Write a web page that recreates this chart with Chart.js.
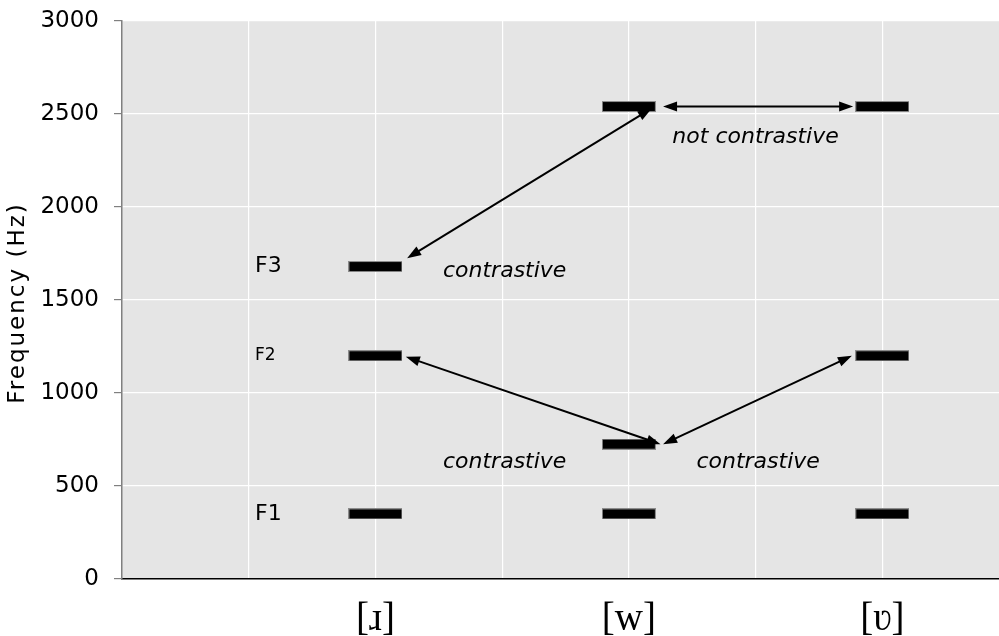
<!DOCTYPE html>
<html>
<head>
<meta charset="utf-8">
<script src="https://cdn.jsdelivr.net/npm/chart.js@4/dist/chart.umd.min.js"></script>
<style>
  html, body { margin: 0; padding: 0; background: #fff; overflow: hidden; }
</style>
</head>
<body>
<canvas id="myChart" width="1009" height="636"></canvas>
<script>
// sounds and where they sit on the x axis
const categories = ['[ɹ]', '[w]', '[ʋ]']
const categoryX = [2, 4, 6]

// formant values (Hz)
const F1 = [350, 350, 350]
const F2 = [1200, 725, 1200]
const F3 = [1680, 2540, 2540]

const yTicks = [0, 500, 1000, 1500, 2000, 2500, 3000]

// formant names, drawn to the left of the [ɹ] bars
const formantNames = ['F1', 'F2', 'F3']
const formantNameSize = [22, 17, 22]

// double arrows between bars, in data units: [x1, y1, x2, y2]
const arrows = [
    [2.25, 1725, 4.18, 2530],
    [4.27, 2540, 5.77, 2540],
    [2.24, 1195, 4.25, 725],
    [4.27, 725, 5.76, 1200]
]

// italic notes
const notes = [
    { text: 'contrastive', x: 3.02, y: 1655 },
    { text: 'not contrastive', x: 5.0, y: 2375 },
    { text: 'contrastive', x: 3.02, y: 630 },
    { text: 'contrastive', x: 5.02, y: 630 }
]

const FONT = '"DejaVu Sans", Verdana, sans-serif'

// bar marker: thick black dash with a thin gray edge
const makeBar = () => {
    const c = document.createElement('canvas')
    c.width = 54
    c.height = 11
    const g = c.getContext('2d')
    g.fillStyle = '#8c8c8c'
    g.fillRect(0, 0, 54, 11)
    g.fillStyle = '#000'
    g.fillRect(1, 1, 52, 9)
    return c
}
const barImg = makeBar()

const toPoints = (values) => values.map((v, i) => ({ x: categoryX[i], y: v }))

const drawArrowHead = (ctx, x, y, ang) => {
    const len = 14, half = 5
    ctx.beginPath()
    ctx.moveTo(x, y)
    ctx.lineTo(x - len * Math.cos(ang) + half * Math.sin(ang), y - len * Math.sin(ang) - half * Math.cos(ang))
    ctx.lineTo(x - len * Math.cos(ang) - half * Math.sin(ang), y - len * Math.sin(ang) + half * Math.cos(ang))
    ctx.closePath()
    ctx.fill()
}

const extras = {
    id: 'extras',
    beforeDraw(chart) {
        const { ctx, chartArea: a } = chart
        ctx.save()
        ctx.fillStyle = '#e5e5e5'
        ctx.fillRect(a.left, a.top, a.right - a.left, a.bottom - a.top)
        ctx.restore()
    },
    afterDatasetsDraw(chart) {
        const { ctx, scales: { x, y } } = chart
        ctx.save()
        ctx.strokeStyle = '#000'
        ctx.fillStyle = '#000'
        ctx.lineWidth = 2
        arrows.forEach(([a1, b1, a2, b2]) => {
            const x1 = x.getPixelForValue(a1), y1 = y.getPixelForValue(b1)
            const x2 = x.getPixelForValue(a2), y2 = y.getPixelForValue(b2)
            const ang = Math.atan2(y2 - y1, x2 - x1)
            const c = Math.cos(ang) * 12, s = Math.sin(ang) * 12
            ctx.beginPath()
            ctx.moveTo(x1 + c, y1 + s)
            ctx.lineTo(x2 - c, y2 - s)
            ctx.stroke()
            drawArrowHead(ctx, x2, y2, ang)
            drawArrowHead(ctx, x1, y1, ang + Math.PI)
        })

        ctx.font = 'italic 22px ' + FONT
        ctx.textAlign = 'center'
        ctx.textBaseline = 'middle'
        notes.forEach(n => {
            ctx.fillText(n.text, x.getPixelForValue(n.x), y.getPixelForValue(n.y))
        })

        ctx.textAlign = 'left'
        const allF = [F1, F2, F3]
        formantNames.forEach((name, i) => {
            ctx.font = formantNameSize[i] + 'px ' + FONT
            ctx.fillText(name, x.getPixelForValue(1.05), y.getPixelForValue(allF[i][0]))
        })

        // y axis title
        ctx.font = '23px ' + FONT
        ctx.letterSpacing = '2px'
        ctx.textAlign = 'center'
        ctx.translate(18, (chart.chartArea.top + chart.chartArea.bottom) / 2 + 3)
        ctx.rotate(-Math.PI / 2)
        ctx.fillText('Frequency (Hz)', 0, 0)
        ctx.restore()
    }
}

const makeSet = (label, values) => ({
    label: label,
    data: toPoints(values),
    pointStyle: barImg,
    pointRadius: 10,
    pointHoverRadius: 10,
    showLine: false
})

const config = {
    type: 'scatter',
    data: {
        datasets: [makeSet('F1', F1), makeSet('F2', F2), makeSet('F3', F3)]
    },
    options: {
        responsive: false,
        animation: false,
        layout: { autoPadding: false, padding: { top: 21, right: 0, left: 0, bottom: 0 } },
        plugins: { legend: { display: false }, tooltip: { enabled: false } },
        scales: {
            x: {
                type: 'linear',
                min: 0,
                max: 7,
                afterFit: s => {
                    s.height = 57
                    s.paddingLeft = 0
                    s.paddingRight = 0
                },
                afterBuildTicks: s => { s.ticks = [1, 2, 3, 4, 5, 6, 7].map(v => ({ value: v })) },
                ticks: {
                    maxRotation: 0,
                    autoSkip: false,
                    padding: 17,
                    color: '#000',
                    font: { family: '"Liberation Serif", "DejaVu Serif", serif', size: 39 },
                    callback: v => {
                        const i = categoryX.indexOf(v)
                        return i >= 0 ? categories[i] : ''
                    }
                },
                grid: { color: '#ffffff', lineWidth: 1.2, drawTicks: false },
                border: { color: '#000', width: 1.5 }
            },
            y: {
                min: 0,
                max: 3000,
                afterFit: s => {
                    s.width = 122
                    s.paddingTop = 0
                    s.paddingBottom = 0
                },
                afterBuildTicks: s => { s.ticks = yTicks.map(v => ({ value: v })) },
                ticks: {
                    padding: 15,
                    color: '#000',
                    font: { family: FONT, size: 23 },
                    callback: v => String(v)
                },
                grid: { color: '#ffffff', lineWidth: 1.2, tickColor: '#808080', tickLength: 8 },
                border: { color: '#808080', width: 1.5 }
            }
        }
    },
    plugins: [extras]
}

new Chart(document.getElementById('myChart'), config)
</script>
</body>
</html>
